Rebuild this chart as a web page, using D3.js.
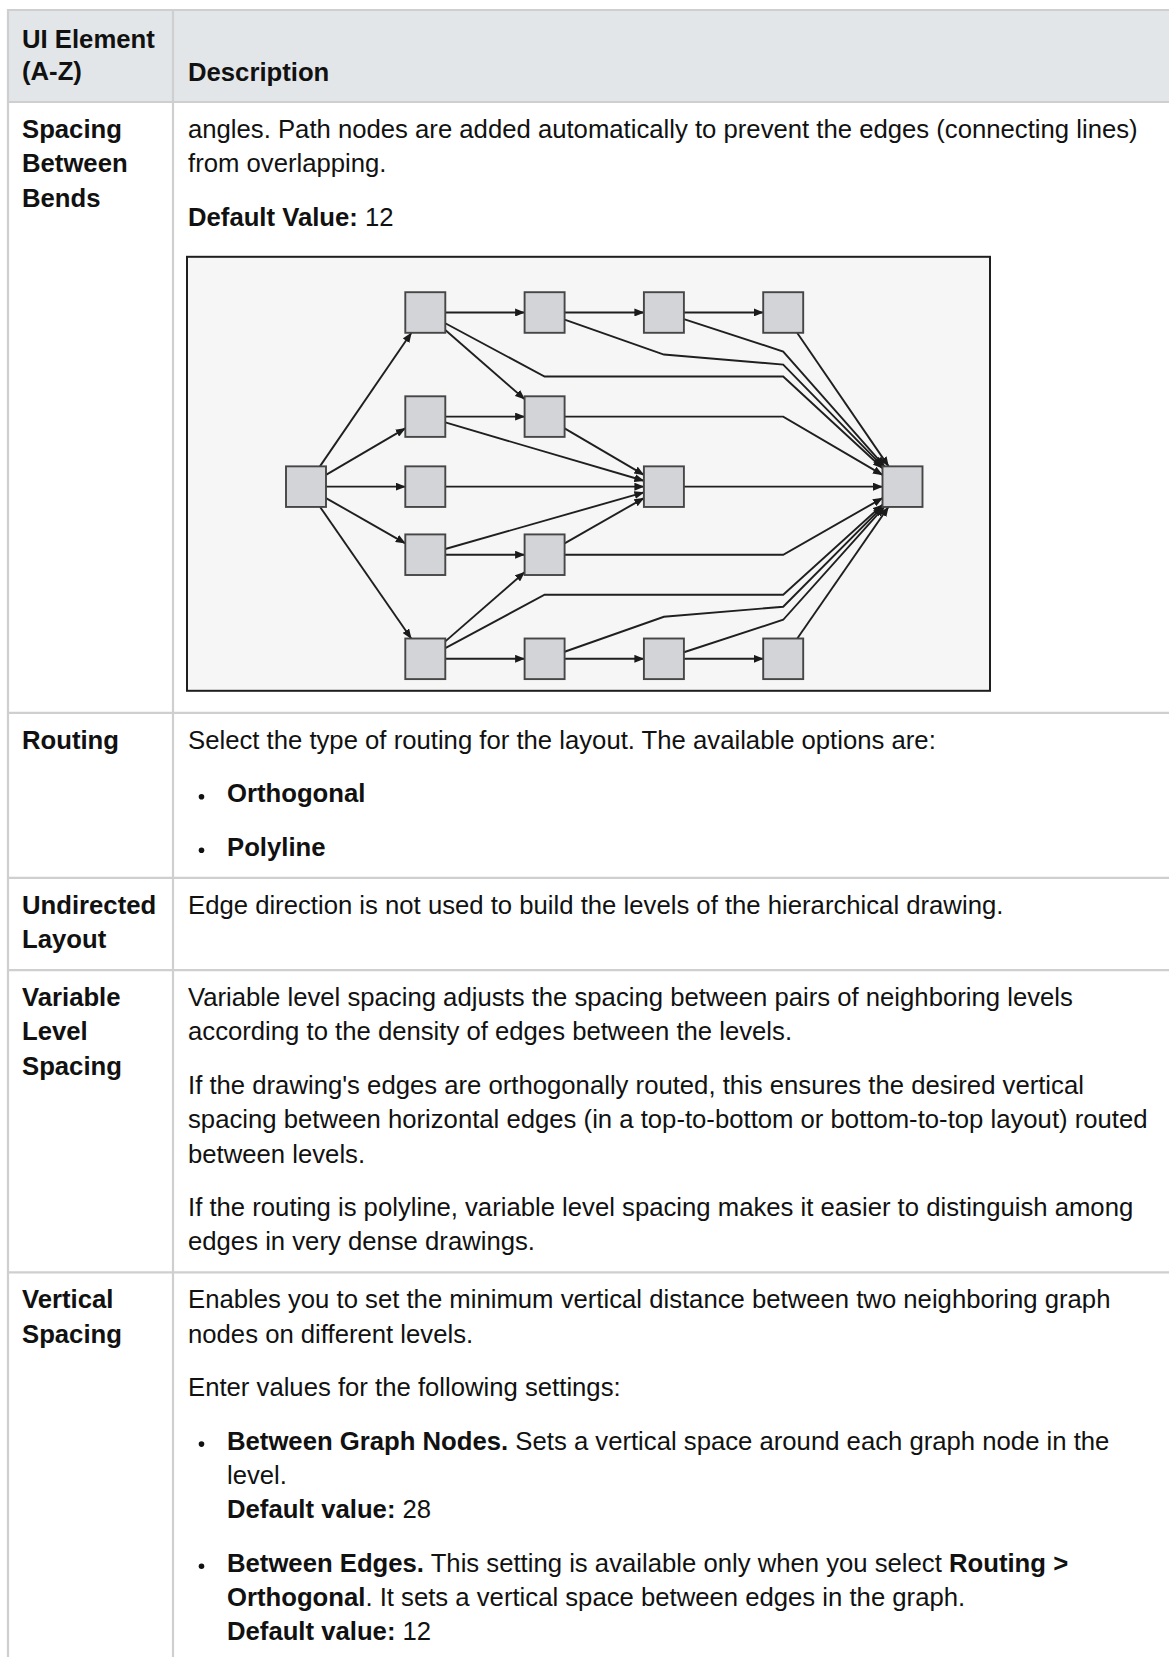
<!DOCTYPE html>
<html><head><meta charset="utf-8">
<script src="https://cdn.jsdelivr.net/npm/d3@7"></script>
<style>html,body{margin:0;padding:0;background:#fff;overflow:hidden;} svg{display:block;} text{white-space:pre;}</style>
</head><body><div id="chart"></div>
<script>
// ---------------- table text ----------------
const headerLeft = ["UI Element", "(A-Z)"];
const headerRight = ["Description"];
const rowLabels = [
  ["Spacing", "Between", "Bends"],
  ["Routing"],
  ["Undirected", "Layout"],
  ["Variable", "Level", "Spacing"],
  ["Vertical", "Spacing"]
];
// each paragraph: kind + lines, each line a list of [text, bold]
const spacingBody = [
  {kind: "p", lines: [[["angles. Path nodes are added automatically to prevent the edges (connecting lines)", 0]], [["from overlapping.", 0]]]},
  {kind: "p", lines: [[["Default Value:", 1], [" 12", 0]]]},
  {kind: "figure"}
];
const routingBody = [
  {kind: "p", lines: [[["Select the type of routing for the layout. The available options are:", 0]]]},
  {kind: "bullet", lines: [[["Orthogonal", 1]]]},
  {kind: "bullet", lines: [[["Polyline", 1]]]}
];
const undirectedBody = [
  {kind: "p", lines: [[["Edge direction is not used to build the levels of the hierarchical drawing.", 0]]]}
];
const variableBody = [
  {kind: "p", lines: [[["Variable level spacing adjusts the spacing between pairs of neighboring levels", 0]], [["according to the density of edges between the levels.", 0]]]},
  {kind: "p", lines: [[["If the drawing's edges are orthogonally routed, this ensures the desired vertical", 0]], [["spacing between horizontal edges (in a top-to-bottom or bottom-to-top layout) routed", 0]], [["between levels.", 0]]]},
  {kind: "p", lines: [[["If the routing is polyline, variable level spacing makes it easier to distinguish among", 0]], [["edges in very dense drawings.", 0]]]}
];
const verticalBody = [
  {kind: "p", lines: [[["Enables you to set the minimum vertical distance between two neighboring graph", 0]], [["nodes on different levels.", 0]]]},
  {kind: "p", lines: [[["Enter values for the following settings:", 0]]]},
  {kind: "bullet", lines: [[["Between Graph Nodes.", 1], [" Sets a vertical space around each graph node in the", 0]], [["level.", 0]], [["Default value:", 1], [" 28", 0]]]},
  {kind: "bullet", lines: [[["Between Edges.", 1], [" This setting is available only when you select ", 0], ["Routing >", 1]], [["Orthogonal", 1], [". It sets a vertical space between edges in the graph.", 0]], [["Default value:", 1], [" 12", 0]]]}
];
const rowBodies = [spacingBody, routingBody, undirectedBody, variableBody, verticalBody];

// ---------------- diagram data (layout units) ----------------
const levelY = {A: 0, B: 104, C: 174, D: 242, E: 346};
const nodeIds   = ["S", "A1", "B1", "C1", "D1", "E1", "A2", "B2", "D2", "E2", "A3", "C3", "E3", "A4", "E4", "T"];
const nodeCols  = [0, 1, 1, 1, 1, 1, 2, 2, 2, 2, 3, 3, 3, 4, 4, 5];
const nodeLevel = ["C", "A", "B", "C", "D", "E", "A", "B", "D", "E", "A", "C", "E", "A", "E", "C"];
const edgeFrom  = ["S","S","S","S","S","A1","A2","A3","A1","A1","A2","A3","A4","B1","B1","B2","B2","C1","C3","D1","D1","D2","D2","E1","E1","E1","E2","E3","E2","E3","E4"];
const edgeTo    = ["A1","B1","C1","D1","E1","A2","A3","A4","B2","T","T","T","T","B2","C3","T","C3","C3","T","D2","C3","C3","T","D2","T","E2","E3","E4","T","T","T"];
// bend points per edge as [column, level value]
const edgeBends = [[],[],[],[],[],[],[],[],[],
  [[2, 64], [4, 64]],
  [[3, 42], [4, 52]],
  [[4, 39]],
  [],[],[],
  [[4, 104]],
  [],[],[],[],[],[],
  [[4, 242]],
  [],
  [[2, 282], [4, 282]],
  [],[],[],
  [[3, 304], [4, 294]],
  [[4, 307]],
  []];

// ---------------- render ----------------
const W = 1169, H = 1657;
const FS = 25.7, LH = 34.3, PSTEP = 53.5, HLH = 32.4;
const FONT = "'Liberation Sans', Arial, Helvetica, sans-serif";
const TABLE_L = 8, COL_X = 173, TOP = 10, HEADER_B = 102;
const LEFT_TX = 22, RIGHT_TX = 188, BULLET_X = 201.5, BULLET_TX = 227;
const LINE_COLOR = "#cfcfcf", TEXT_COLOR = "#111";

const svg = d3.select("#chart").append("svg").attr("width", W).attr("height", H)
  .style("font-family", FONT).style("font-size", FS + "px");

const gBg = svg.append("g"), gLines = svg.append("g"), gText = svg.append("g"), gFig = svg.append("g");

function drawLine(g, x, y, runs) {
  const t = g.append("text").attr("x", x).attr("y", y).attr("fill", TEXT_COLOR);
  runs.forEach(r => t.append("tspan").attr("font-weight", r[1] ? "bold" : "normal").text(r[0]));
}

// header
gBg.append("rect").attr("x", TABLE_L).attr("y", TOP).attr("width", W - TABLE_L).attr("height", HEADER_B - TOP).attr("fill", "#e3e6e8");
const hBase = TOP + 37.7;
headerLeft.forEach((s, i) => drawLine(gText, LEFT_TX, hBase + i * HLH, [[s, 1]]));
headerRight.forEach((s, i) => drawLine(gText, RIGHT_TX, hBase + (headerLeft.length - headerRight.length + i) * HLH + 1, [[s, 1]]));

const rowLinesY = [TOP, HEADER_B];
let rowTop = HEADER_B;
const FIG_W = 803, FIG_H = 434;

rowBodies.forEach((body, ri) => {
  const first = rowTop + 36;
  rowLabels[ri].forEach((s, i) => drawLine(gText, LEFT_TX, first + i * LH, [[s, 1]]));
  let lastLeft = first + (rowLabels[ri].length - 1) * LH;
  let y = first, bottom = 0;
  body.forEach((para, pi) => {
    if (para.kind === "figure") {
      const figTop = y - LH + 31;
      drawFigure(RIGHT_TX - 1, figTop);
      bottom = figTop + FIG_H + 22;
      return;
    }
    if (pi > 0) y += PSTEP - LH;
    para.lines.forEach((ln, li) => {
      if (li > 0) y += LH;
      if (para.kind === "bullet") {
        if (li === 0) gText.append("circle").attr("cx", BULLET_X).attr("cy", y - 5.5).attr("r", 2.8).attr("fill", TEXT_COLOR);
        drawLine(gText, BULLET_TX, y, ln);
      } else drawLine(gText, RIGHT_TX, y, ln);
    });
    bottom = Math.max(bottom, y + 22);
    y += LH;
  });
  bottom = Math.max(bottom, lastLeft + 22);
  rowTop = bottom;
  rowLinesY.push(rowTop);
});

gLines.selectAll("line.h").data(rowLinesY).join("line").attr("class", "h")
  .attr("x1", TABLE_L - 1).attr("x2", W).attr("y1", d => d).attr("y2", d => d)
  .attr("stroke", LINE_COLOR).attr("stroke-width", 2.2);
gLines.selectAll("line.v").data([TABLE_L, COL_X]).join("line").attr("class", "v")
  .attr("x1", d => d).attr("x2", d => d).attr("y1", TOP - 1).attr("y2", H)
  .attr("stroke", LINE_COLOR).attr("stroke-width", 2.2);

function drawFigure(fx, fy) {
  const g = gFig.append("g").attr("transform", `translate(${fx},${fy})`);
  g.append("rect").attr("x", 0).attr("y", 0).attr("width", FIG_W).attr("height", FIG_H)
    .attr("fill", "#f6f6f6").attr("stroke", "#1e1e1e").attr("stroke-width", 2);

  const x = d3.scaleLinear().domain([0, 5]).range([119, 715.5]);
  const y = d3.scaleLinear().domain([0, 346]).range([55.7, 402]);
  const HW = 20, HH = 20.3;

  const nodes = nodeIds.map((id, i) => ({id, cx: x(nodeCols[i]), cy: y(levelY[nodeLevel[i]])}));
  const byId = Object.fromEntries(nodes.map(n => [n.id, n]));

  const defs = svg.append("defs");
  defs.append("marker").attr("id", "arr").attr("markerUnits", "userSpaceOnUse")
    .attr("markerWidth", 10).attr("markerHeight", 8).attr("refX", 9.5).attr("refY", 4)
    .attr("orient", "auto").append("path").attr("d", "M0,0L10,4L0,8Z").attr("fill", "#1a1a1a");

  function clip(c, p) {
    const dx = p[0] - c[0], dy = p[1] - c[1];
    const t = Math.min(dx ? HW / Math.abs(dx) : Infinity, dy ? HH / Math.abs(dy) : Infinity);
    return [c[0] + dx * t, c[1] + dy * t];
  }

  const edges = edgeFrom.map((f, i) => {
    const a = byId[f], b = byId[edgeTo[i]];
    const pts = [[a.cx, a.cy], ...edgeBends[i].map(p => [x(p[0]), y(p[1])]), [b.cx, b.cy]];
    pts[0] = clip(pts[0], pts[1]);
    const n = pts.length;
    pts[n - 1] = clip(pts[n - 1], pts[n - 2]);
    return pts;
  });

  const line = d3.line();
  g.append("g").selectAll("path").data(edges).join("path")
    .attr("d", line).attr("fill", "none").attr("stroke", "#1f1f1f").attr("stroke-width", 1.9)
    .attr("marker-end", "url(#arr)");

  g.append("g").selectAll("rect").data(nodes).join("rect")
    .attr("x", d => d.cx - HW).attr("y", d => d.cy - HH).attr("width", 2 * HW).attr("height", 2 * HH)
    .attr("fill", "#d3d4d8").attr("stroke", "#464646").attr("stroke-width", 1.9);
}
</script>
</body></html>
